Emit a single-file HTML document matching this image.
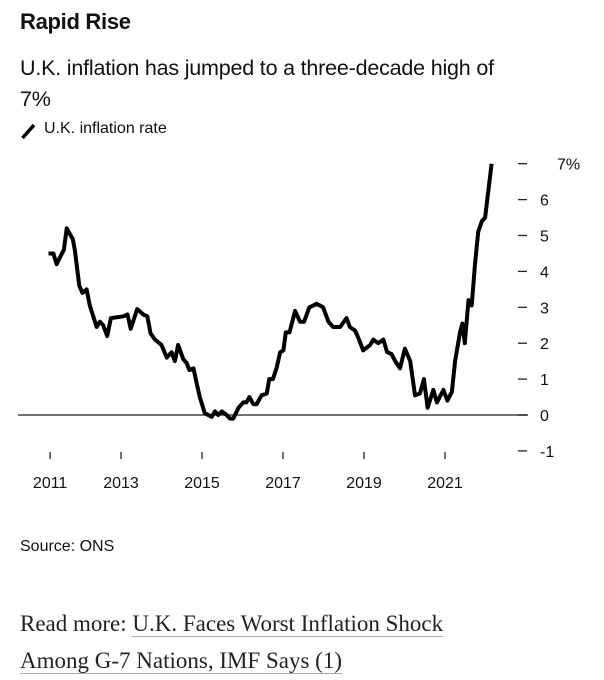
<!DOCTYPE html>
<html><head><meta charset="utf-8"><style>
body{margin:0;width:604px;height:680px;background:#fff;font-family:"Liberation Sans",sans-serif;color:#111;position:relative;overflow:hidden}
.t{position:absolute;white-space:nowrap}
a{color:#222;text-decoration:none;border-bottom:1.5px solid #aaa}
</style></head><body>
<div class="t" style="left:20px;top:9px;font-size:22px;font-weight:bold;letter-spacing:-0.3px">Rapid Rise</div>
<div class="t" style="left:20px;top:53px;font-size:21.5px;line-height:31px;letter-spacing:-0.2px">U.K. inflation has jumped to a three-decade high of<br>7%</div>
<div class="t" style="left:20px;top:120px;font-size:16px">
<svg width="18" height="18" style="position:absolute;left:0;top:2px"><line x1="2.5" y1="16" x2="14" y2="3" stroke="#000" stroke-width="3.5"/></svg>
<span style="margin-left:24px">U.K. inflation rate</span></div>
<svg id="chart" width="604" height="500" style="position:absolute;left:0;top:0"></svg>
<div class="t" style="left:20px;top:538px;font-size:16px">Source: ONS</div>
<div class="t" style="left:20px;top:605px;font-family:'Liberation Serif',serif;font-size:23px;line-height:37px;color:#222">Read more: <a href="#">U.K. Faces Worst Inflation Shock</a><br><a href="#">Among G-7 Nations, IMF Says (1)</a></div>
<script>
const dates=[2011.21,2011.33,2011.41,2011.54,2011.59,2011.66,2011.81,2011.86,2011.97,2012.05,2012.15,2012.23,2012.40,2012.48,2012.56,2012.66,2012.75,2013.06,2013.16,2013.24,2013.40,2013.55,2013.65,2013.73,2013.84,2014.0,2014.13,2014.25,2014.33,2014.41,2014.54,2014.62,2014.69,2014.79,2014.87,2014.95,2015.07,2015.24,2015.32,2015.40,2015.49,2015.61,2015.69,2015.77,2015.90,2016.02,2016.10,2016.17,2016.27,2016.35,2016.47,2016.60,2016.66,2016.75,2016.84,2016.93,2017.01,2017.07,2017.16,2017.30,2017.42,2017.52,2017.65,2017.75,2017.83,2017.91,2017.99,2018.12,2018.24,2018.41,2018.57,2018.65,2018.78,2018.86,2018.98,2019.15,2019.23,2019.35,2019.48,2019.57,2019.68,2019.77,2019.89,2020.01,2020.14,2020.26,2020.38,2020.48,2020.57,2020.71,2020.80,2020.96,2021.06,2021.17,2021.25,2021.37,2021.43,2021.49,2021.58,2021.66,2021.74,2021.82,2021.91,2021.99,2022.15];
const values=[4.5,4.5,4.2,4.5,4.6,5.2,4.9,4.6,3.6,3.4,3.5,3.05,2.45,2.6,2.5,2.2,2.7,2.75,2.8,2.4,2.95,2.8,2.75,2.27,2.1,1.95,1.6,1.75,1.5,1.95,1.55,1.45,1.25,1.3,0.88,0.48,0.05,-0.05,0.1,0,0.1,0,-0.1,-0.1,0.2,0.35,0.35,0.5,0.3,0.3,0.55,0.6,1.0,1.0,1.3,1.75,1.8,2.3,2.3,2.9,2.6,2.6,3.0,3.05,3.1,3.05,3.0,2.6,2.45,2.45,2.7,2.45,2.35,2.15,1.8,1.95,2.1,2.0,2.1,1.75,1.7,1.5,1.3,1.85,1.5,0.55,0.6,1.0,0.2,0.7,0.35,0.7,0.4,0.65,1.5,2.3,2.55,2.0,3.2,3.05,4.2,5.1,5.4,5.5,7.0];
const xTickValues=[2011.25,2013,2015,2017,2019,2021];
const xTickLabels=["2011","2013","2015","2017","2019","2021"];
const yTickValues=[-1,0,1,2,3,4,5,6,7];
const yTickLabels=["-1","0","1","2","3","4","5","6","7%"];
const NS="http://www.w3.org/2000/svg";
const svg=document.getElementById('chart');
const xs=t=>202+(t-2015)*40.5;
const ys=v=>415-v*35.9;
function mk(tag,attrs){const e=document.createElementNS(NS,tag);for(const k in attrs)e.setAttribute(k,attrs[k]);svg.appendChild(e);return e;}
const zl=mk('line',{x1:18,x2:528,y1:ys(0),y2:ys(0),stroke:'#444','stroke-width':1.5});


yTickValues.forEach((v,i)=>{
  const tk=mk('line',{x1:518,x2:527,y1:ys(v),y2:ys(v),stroke:'#222','stroke-width':1.3});
  
  
  const lb=mk('text',{x:yTickLabels[i].includes('%')?557:540,y:ys(v)+6,'font-size':16,fill:'#111','font-family':'Liberation Sans, sans-serif'});
  lb.textContent=yTickLabels[i];
  
  
});
xTickValues.forEach((t,i)=>{
  const tk=mk('line',{x1:xs(t),x2:xs(t),y1:452,y2:459,stroke:'#222','stroke-width':1.3});
  
  
  const lb=mk('text',{x:xs(t),y:488,'font-size':16,fill:'#111','text-anchor':'middle','font-family':'Liberation Sans, sans-serif'});
  lb.textContent=xTickLabels[i];
  
  
});
const d=dates.map((t,i)=>(i?'L':'M')+xs(t).toFixed(1)+','+ys(values[i]).toFixed(1)).join('');
const p=mk('path',{d:d,fill:'none',stroke:'#000','stroke-width':4,'stroke-linejoin':'round'});


</script>
</body></html>
